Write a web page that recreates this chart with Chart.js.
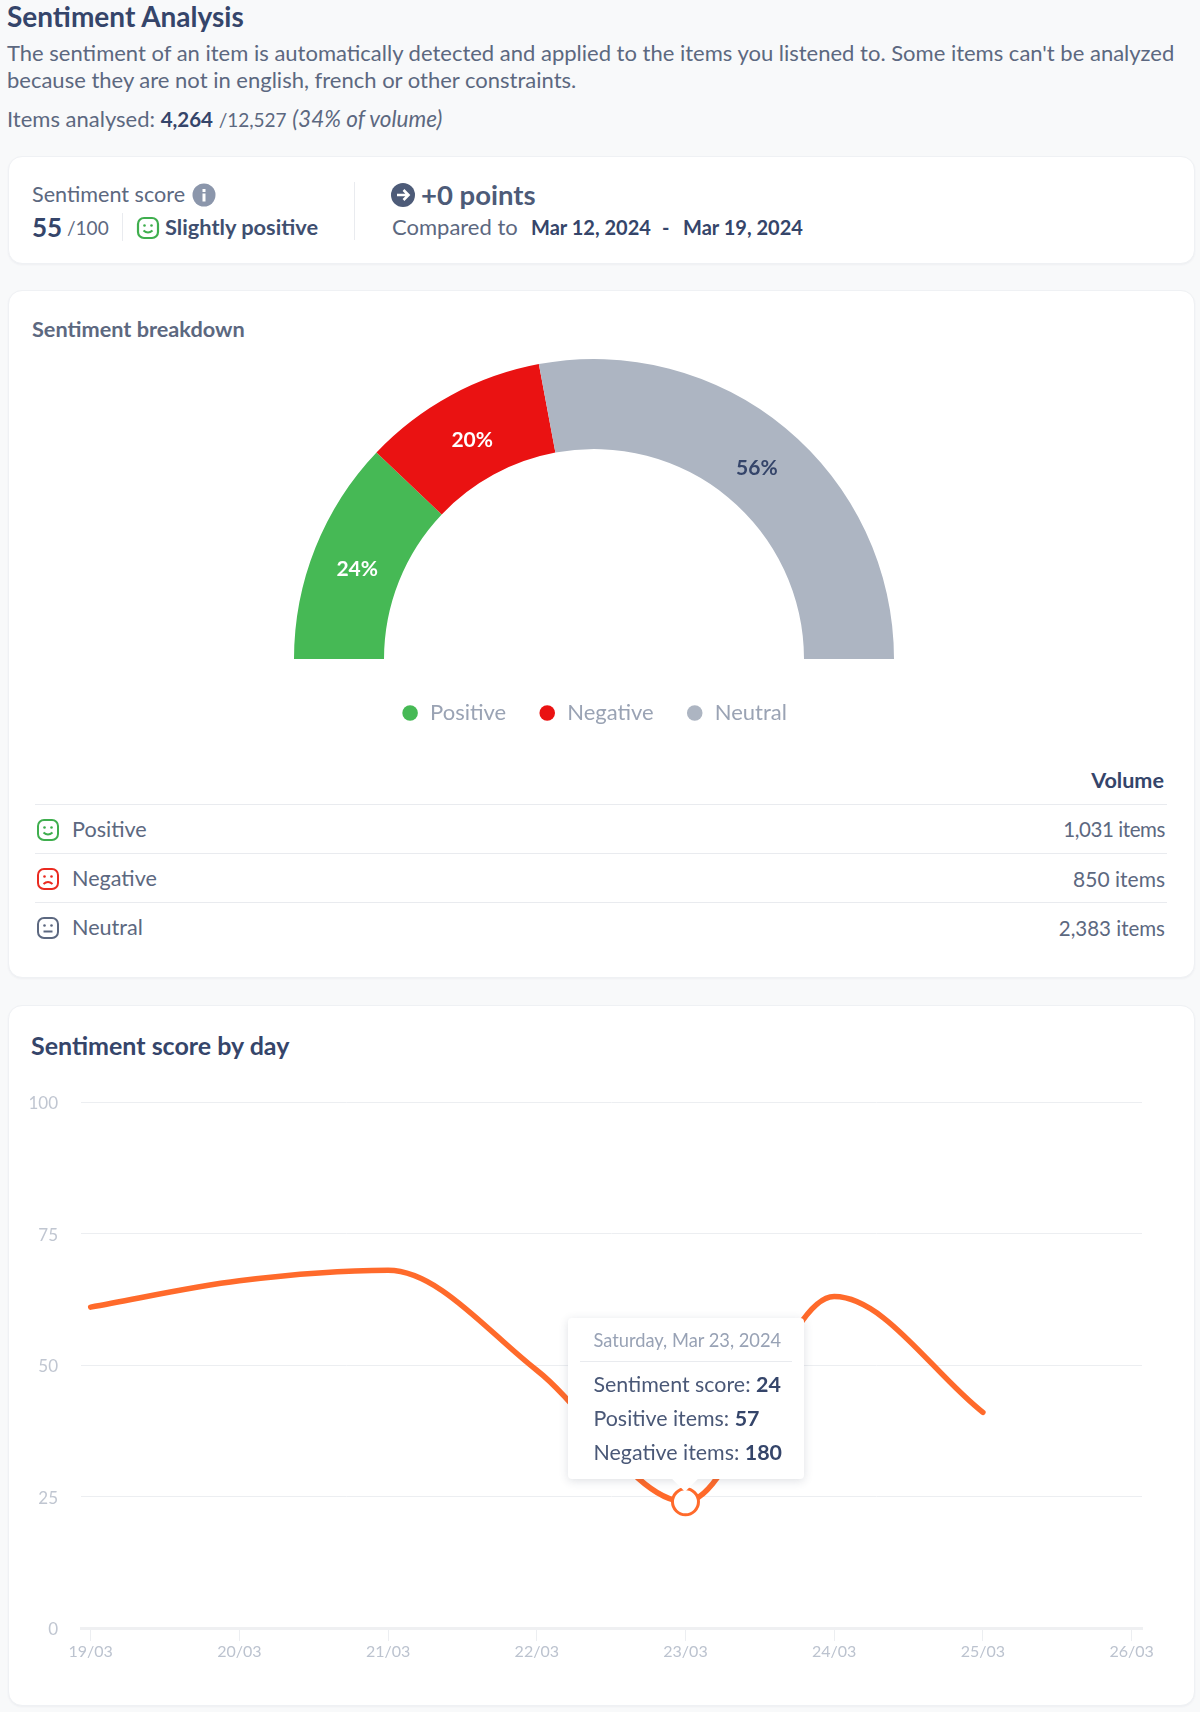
<!DOCTYPE html>
<html lang="en">
<head>
  <meta charset="UTF-8">
  <title>Sentiment Analysis</title>
  <script src="https://cdn.jsdelivr.net/npm/chart.js"></script>
  <style>
    html, body { margin: 0; background: #f8f9fa; }
    body { position: relative; width: 1200px; height: 1712px; overflow: hidden; font-family: Lato, sans-serif; color: #5c6880; font-size: 21.6px; }
    .t { position: absolute; white-space: nowrap; line-height: 1; transform: translateY(calc(-50% - 1px)); }
    .r { transform: translate(-100%, calc(-50% - 1px)); }
    b { font-weight: 700; color: #35456a; }
    .card { position: absolute; left: 8px; width: 1187px; background: #fff; border: 1px solid #eff1f4; border-radius: 14px; box-sizing: border-box; box-shadow: 0 1px 2px rgba(50,60,90,.05); }
    .rule { position: absolute; background: #e9ebef; }
    svg.i { position: absolute; }
    canvas { position: absolute; }
    #tip { position: absolute; width: 236px; height: 161px; box-sizing: border-box; background: #fff; border-radius: 4px; box-shadow: 0 2px 10px rgba(50,60,90,.16); font-size: 21.4px; color: #4a5877; }
    #tip:after { content: ""; position: absolute; left: 108px; bottom: -9px; width: 18px; height: 18px; background: #fff; transform: rotate(45deg); }
    #tip .t { z-index: 1; }
    #tip .hr { position: absolute; left: 12px; right: 12px; top: 43px; height: 1px; background: #e9ebef; }
  </style>
</head>
<body>
  <div class="t" style="left:7px;top:17px;font-size:28px;font-weight:700;color:#35456a">Sentiment Analysis</div>
  <div class="t" style="left:7px;top:54px;font-size:22px">The sentiment of an item is automatically detected and applied to the items you listened to. Some items can't be analyzed</div>
  <div class="t" style="left:7px;top:81px;font-size:22px">because they are not in english, french or other constraints.</div>
  <div class="t" style="left:7px;top:120px;font-size:22px">Items analysed: <b style="font-size:20.5px">4,264</b> <span style="font-size:19px">/12,527</span> <i style="font-size:22.5px">(34% of volume)</i></div>

  <div class="card" style="top:156px;height:108px"></div>
  <div class="t" style="left:32px;top:196px">Sentiment score</div>
  <svg class="i" style="left:192px;top:183px" width="24" height="24" viewBox="0 0 24 24"><circle cx="12" cy="12" r="11.5" fill="#8b96ab"/><rect x="10.5" y="10.5" width="3" height="8" fill="#fff"/><rect x="10.5" y="6" width="3" height="3" fill="#fff"/></svg>
  <div class="t" style="left:32px;top:228px;font-size:26px"><b>55</b></div>
  <div class="t" style="left:67px;top:228px;font-size:19px">/100</div>
  <div class="rule" style="left:122px;top:213px;width:1px;height:28px"></div>
  <svg class="i" style="left:136px;top:216px" width="24" height="24" viewBox="0 0 24 24"><rect x="2" y="2" width="20" height="20" rx="6" fill="none" stroke="#3fae4e" stroke-width="2.2"/><circle cx="8.5" cy="9.5" r="1.3" fill="#3fae4e"/><circle cx="15.5" cy="9.5" r="1.3" fill="#3fae4e"/><path d="M7.5 14.5q4.5 4 9 0" fill="none" stroke="#3fae4e" stroke-width="2"/></svg>
  <div class="t" style="left:165px;top:228px;font-size:21.8px"><b style="color:#3f4f70">Slightly positive</b></div>
  <div class="rule" style="left:354px;top:182px;width:1px;height:58px"></div>
  <svg class="i" style="left:391px;top:183px" width="24" height="24" viewBox="0 0 24 24"><circle cx="12" cy="12" r="12" fill="#4d5b78"/><path d="M6 12h11M12.5 7l5 5-5 5" fill="none" stroke="#fff" stroke-width="2.6"/></svg>
  <div class="t" style="left:421px;top:196px;font-size:27.5px;font-weight:700;color:#4d5b78">+0 points</div>
  <div class="t" style="left:392px;top:228px;font-size:22px">Compared to</div>
  <div class="t" style="left:531px;top:228px;font-size:20px"><b>Mar 12, 2024</b></div>
  <div class="t" style="left:662px;top:228px;font-size:20px"><b>-</b></div>
  <div class="t" style="left:683px;top:228px;font-size:20px"><b>Mar 19, 2024</b></div>

  <div class="card" style="top:290px;height:688px"></div>
  <div class="t" style="left:32px;top:331px;font-size:21.7px;font-weight:700;color:#5c6880">Sentiment breakdown</div>
  <canvas id="gauge" style="left:294px;top:348px"></canvas>
  <div class="t r" style="left:1164px;top:782px"><b>Volume</b></div>
  <div class="rule" style="left:35px;top:804px;width:1132px;height:1px"></div>
  <div class="rule" style="left:35px;top:853px;width:1132px;height:1px"></div>
  <div class="rule" style="left:35px;top:902px;width:1132px;height:1px"></div>
  <svg class="i" style="left:36px;top:818px" width="24" height="24" viewBox="0 0 24 24"><rect x="2" y="2" width="20" height="20" rx="6" fill="none" stroke="#3fae4e" stroke-width="2"/><circle cx="8.5" cy="9.5" r="1.3" fill="#3fae4e"/><circle cx="15.5" cy="9.5" r="1.3" fill="#3fae4e"/><path d="M7.5 14.5q4.5 4 9 0" fill="none" stroke="#3fae4e" stroke-width="2"/></svg>
  <svg class="i" style="left:36px;top:867px" width="24" height="24" viewBox="0 0 24 24"><rect x="2" y="2" width="20" height="20" rx="6" fill="none" stroke="#ea2a20" stroke-width="2"/><circle cx="8.5" cy="9.5" r="1.3" fill="#ea2a20"/><circle cx="15.5" cy="9.5" r="1.3" fill="#ea2a20"/><path d="M7.5 17q4.5-4 9 0" fill="none" stroke="#ea2a20" stroke-width="2"/></svg>
  <svg class="i" style="left:36px;top:916px" width="24" height="24" viewBox="0 0 24 24"><rect x="2" y="2" width="20" height="20" rx="6" fill="none" stroke="#5c6880" stroke-width="2"/><circle cx="8.5" cy="9.5" r="1.3" fill="#5c6880"/><circle cx="15.5" cy="9.5" r="1.3" fill="#5c6880"/><path d="M7.5 15.5h9" fill="none" stroke="#5c6880" stroke-width="2"/></svg>
  <div class="t" style="left:72px;top:831px">Positive</div>
  <div class="t" style="left:72px;top:880px">Negative</div>
  <div class="t" style="left:72px;top:929px">Neutral</div>
  <div class="t r" style="left:1165px;top:830px;font-size:20.5px;letter-spacing:-.4px">1,031 items</div>
  <div class="t r" style="left:1165px;top:879px;font-size:21px">850 items</div>
  <div class="t r" style="left:1165px;top:929px;font-size:20.5px">2,383 items</div>

  <div class="card" style="top:1005px;height:701px"></div>
  <div class="t" style="left:31px;top:1046px;font-size:25px;font-weight:700;color:#35456a">Sentiment score by day</div>
  <canvas id="daily" style="left:0;top:1090px"></canvas>
  <div id="tip"></div>

  <script>
    const sentimentLabels = ['Positive', 'Negative', 'Neutral'];
    const sentimentItems = [1031, 850, 2383];
    const sentimentColors = ['#46b955', '#ea1212', '#adb5c2'];
    const labelColors = ['#ffffff', '#ffffff', '#35456a'];

    const dayLabels = ['19/03', '20/03', '21/03', '22/03', '23/03', '24/03', '25/03', '26/03'];
    const dayScores = [61, 66, 68, 49, 24, 63, 41];
    const scoreTicks = [0, 25, 50, 75, 100];

    const hoverDay = 4;
    const hoverDate = 'Saturday, Mar 23, 2024';
    const hoverPositive = 57;
    const hoverNegative = 180;

    const fontFamily = 'Lato, sans-serif';

    // percent labels on the gauge, the datalabels plugin is not available
    const percentLabels = {
      id: 'percentLabels',
      afterDatasetsDraw(chart) {
        const c = chart.ctx;
        const total = sentimentItems.reduce((a, b) => a + b, 0);
        c.save();
        c.font = '700 21px ' + fontFamily;
        c.textAlign = 'center';
        c.textBaseline = 'middle';
        chart.getDatasetMeta(0).data.forEach((arc, i) => {
          const pos = arc.tooltipPosition();
          c.fillStyle = labelColors[i];
          c.fillText(Math.round(sentimentItems[i] / total * 100) + '%', pos.x, pos.y + 5);
        });
        c.restore();
      }
    };

    const gaugeEl = document.getElementById('gauge');
    gaugeEl.width = 600;
    gaugeEl.height = 386;
    new Chart(gaugeEl, {
      type: 'doughnut',
      data: {
        labels: sentimentLabels,
        datasets: [{ data: sentimentItems, backgroundColor: sentimentColors, borderWidth: 0 }]
      },
      options: {
        responsive: false,
        animation: false,
        rotation: -90,
        circumference: 180,
        cutout: '70%',
        plugins: {
          tooltip: { enabled: false },
          legend: {
            position: 'bottom',
            labels: {
              usePointStyle: true,
              pointStyle: 'circle',
              boxWidth: 18,
              boxHeight: 11,
              padding: 32,
              color: '#9aa3b4',
              font: { family: fontFamily, size: 22 }
            }
          }
        }
      },
      plugins: [percentLabels]
    });

    function drawTip(context) {
      const tooltip = context.tooltip;
      const tip = document.getElementById('tip');
      if (!tooltip.dataPoints || !tooltip.dataPoints.length) return;
      const canvas = context.chart.canvas;
      tip.style.left = (canvas.offsetLeft + tooltip.caretX - 117) + 'px';
      tip.style.top = (canvas.offsetTop + tooltip.caretY - 184) + 'px';
      tip.innerHTML =
        '<div class="t" style="left:25px;top:23px;font-size:18.3px;color:#98a2b5">' + hoverDate + '</div>' +
        '<div class="hr"></div>' +
        '<div class="t" style="left:25px;top:68px">Sentiment score: <b>' + dayScores[hoverDay] + '</b></div>' +
        '<div class="t" style="left:25px;top:102px">Positive items: <b>' + hoverPositive + '</b></div>' +
        '<div class="t" style="left:25px;top:136px">Negative items: <b>' + hoverNegative + '</b></div>';
    }

    const dailyEl = document.getElementById('daily');
    dailyEl.width = 1200;
    dailyEl.height = 590;
    const daily = new Chart(dailyEl, {
      type: 'line',
      data: {
        datasets: [{
          data: dayScores.map((y, x) => ({ x, y })),
          borderColor: '#ff6a2b',
          borderWidth: 5.5,
          borderCapStyle: 'round',
          cubicInterpolationMode: 'monotone',
          pointRadius: 0,
          pointHoverRadius: 13,
          pointHoverBorderWidth: 3,
          pointHoverBorderColor: '#ff6a2b',
          pointHoverBackgroundColor: '#ffffff'
        }]
      },
      options: {
        responsive: false,
        animation: false,
        layout: { padding: { top: 12, right: 58, left: 0, bottom: 0 } },
        plugins: {
          legend: { display: false },
          tooltip: { enabled: false, external: drawTip }
        },
        scales: {
          x: {
            type: 'linear',
            min: -0.065,
            max: 7.07,
            afterFit(scale) { scale.height = 52; },
            grid: { drawOnChartArea: false, drawTicks: true, tickLength: 13, color: '#eceef1' },
            border: { color: '#eff0f2', width: 3 },
            ticks: {
              stepSize: 1,
              includeBounds: false,
              autoSkip: false,
              maxRotation: 0,
              padding: 1,
              color: '#bcc3cf',
              font: { family: fontFamily, size: 16 },
              callback: v => dayLabels[v]
            }
          },
          y: {
            min: scoreTicks[0],
            max: scoreTicks[scoreTicks.length - 1],
            afterFit(scale) { scale.width = 81; scale.paddingTop = 0; scale.paddingBottom = 0; },
            grid: { drawTicks: false, color: '#eceef1', lineWidth: 1 },
            border: { display: false },
            ticks: {
              stepSize: 25,
              padding: 23,
              labelOffset: 2,
              color: '#c0c6d1',
              font: { family: fontFamily, size: 17 }
            }
          }
        }
      }
    });

    const hovered = [{ datasetIndex: 0, index: hoverDay }];
    daily.setActiveElements(hovered);
    daily.tooltip.setActiveElements(hovered, { x: 0, y: 0 });
    daily.update();
  </script>
</body>
</html>
